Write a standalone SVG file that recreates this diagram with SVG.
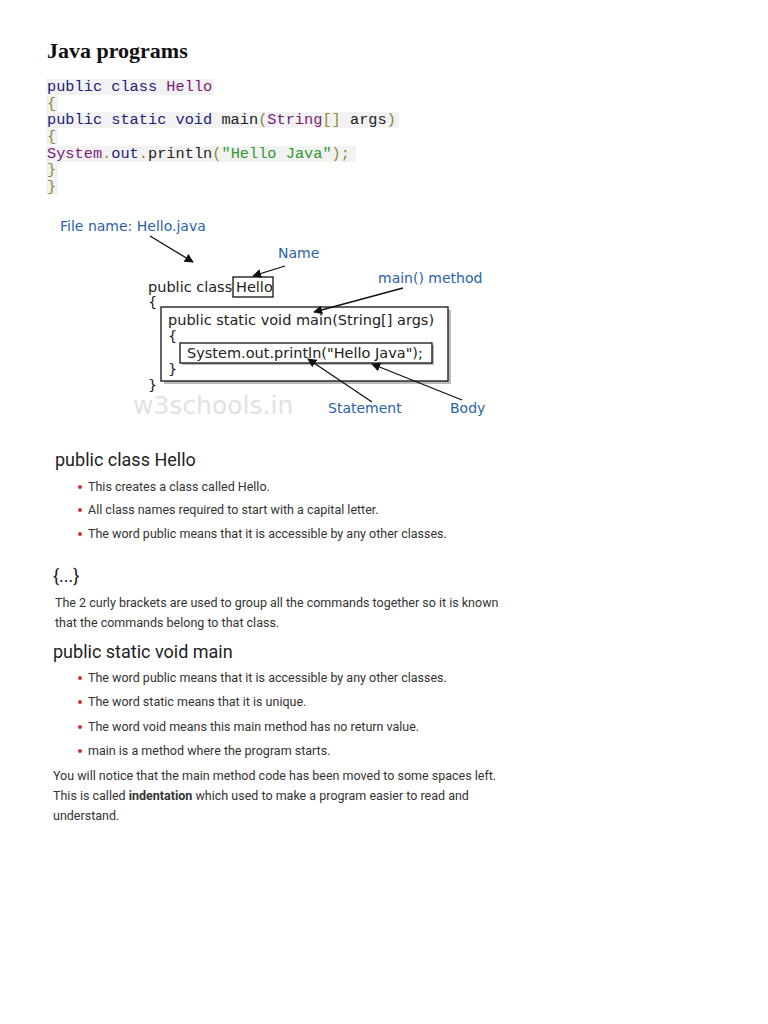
<svg xmlns="http://www.w3.org/2000/svg" width="768" height="1024" viewBox="0 0 768 1024">
<defs>
<style>
.code{font-family:"Liberation Mono",monospace;font-size:15.3px}
.kw{fill:#1a237e}.pl{fill:#7b1c7b}.br{fill:#8a8a3a}.st{fill:#2e9a2e}.tx{fill:#222}
.lbl{font-family:"DejaVu Sans",sans-serif;font-size:14px;fill:#2a63a8}
.dg{font-family:"DejaVu Sans",sans-serif;font-size:14.5px;fill:#222}
.h{font-family:Roboto,"Liberation Sans",sans-serif;font-size:18px;fill:#222}
.p{font-family:Roboto,"Liberation Sans",sans-serif;font-size:12.5px;fill:#333}
.arr{stroke:#111;stroke-width:1.3;fill:none;marker-end:url(#ah)}
</style>
<marker id="ah" viewBox="0 0 10 10" refX="9" refY="5" markerWidth="7" markerHeight="7" orient="auto"><path d="M0,0 L10,5 L0,10 z" fill="#111"/></marker>
</defs>
<rect width="768" height="1024" fill="#fff"/>
<text x="47" y="58" font-family="Liberation Serif,serif" font-size="22" font-weight="bold" fill="#111">Java programs</text>
<g id="code">
<rect x="46" y="79" width="168" height="16" fill="#f2f2f2"/>
<rect x="46" y="96" width="12" height="16" fill="#f2f2f2"/>
<rect x="46" y="112" width="353" height="16" fill="#f2f2f2"/>
<rect x="46" y="129" width="12" height="16" fill="#f2f2f2"/>
<rect x="46" y="146" width="310" height="16" fill="#f2f2f2"/>
<rect x="46" y="162" width="12" height="16" fill="#f2f2f2"/>
<rect x="46" y="179" width="12" height="16" fill="#f2f2f2"/>
<text class="code" x="47" y="91"><tspan class="kw">public class </tspan><tspan class="pl">Hello</tspan></text>
<text class="code br" x="47" y="108">{</text>
<text class="code" x="47" y="124"><tspan class="kw">public static void </tspan><tspan class="tx">main</tspan><tspan class="br">(</tspan><tspan class="pl">String</tspan><tspan class="br">[] </tspan><tspan class="tx">args</tspan><tspan class="br">)</tspan></text>
<text class="code br" x="47" y="141">{</text>
<text class="code" x="47" y="158"><tspan class="pl">System</tspan><tspan class="br">.</tspan><tspan class="kw">out</tspan><tspan class="br">.</tspan><tspan class="tx">println</tspan><tspan class="br">(</tspan><tspan class="st">"Hello Java"</tspan><tspan class="br">);</tspan></text>
<text class="code br" x="47" y="174">}</text>
<text class="code br" x="47" y="191">}</text>
</g>
<g id="diagram">
<text x="133" y="414" font-family="DejaVu Sans,sans-serif" font-size="25" fill="#e2e2e2">w3schools.in</text>
<text class="lbl" x="60" y="231">File name: Hello.java</text>
<text class="lbl" x="278" y="258">Name</text>
<text class="lbl" x="378" y="283">main() method</text>
<text class="lbl" x="328" y="413">Statement</text>
<text class="lbl" x="450" y="413">Body</text>
<text class="dg" x="148" y="292">public class</text>
<rect x="233" y="277" width="40" height="20" fill="#fff" stroke="#111" stroke-width="1.3"/>
<text class="dg" x="236" y="292">Hello</text>
<text class="dg" x="148" y="307">{</text>
<rect x="164" y="310" width="287" height="74" fill="#bbb"/>
<rect x="161" y="307" width="287" height="74" fill="#fff" stroke="#111" stroke-width="1.3"/>
<text class="dg" x="168" y="325">public static void main(String[] args)</text>
<text class="dg" x="168" y="341">{</text>
<rect x="182" y="345" width="252" height="20" fill="#bbb"/>
<rect x="180" y="343" width="252" height="20" fill="#fff" stroke="#111" stroke-width="1.3"/>
<text class="dg" x="187" y="358">System.out.println("Hello Java");</text>
<text class="dg" x="168" y="374">}</text>
<text class="dg" x="148" y="390">}</text>
</g>
<g id="connectors">
<line class="arr" x1="150" y1="236" x2="193" y2="262"/>
<line class="arr" x1="285" y1="266" x2="253" y2="276"/>
<line class="arr" x1="403" y1="288" x2="314" y2="312"/>
<line class="arr" x1="372" y1="402" x2="308" y2="359"/>
<line class="arr" x1="462" y1="400" x2="372" y2="364"/>
</g>
<g id="notes">
<text class="h" x="55" y="466">public class Hello</text>
<g fill="#d32f2f"><circle cx="80" cy="487" r="2"/><circle cx="80" cy="510" r="2"/><circle cx="80" cy="534" r="2"/>
<circle cx="80" cy="678" r="2"/><circle cx="80" cy="702" r="2"/><circle cx="80" cy="727" r="2"/><circle cx="80" cy="751" r="2"/></g>
<text class="p" x="88" y="491">This creates a class called Hello.</text>
<text class="p" x="88" y="514">All class names required to start with a capital letter.</text>
<text class="p" x="88" y="538">The word public means that it is accessible by any other classes.</text>
<text class="h" x="53" y="582">{...}</text>
<text class="p" x="55" y="607">The 2 curly brackets are used to group all the commands together so it is known</text>
<text class="p" x="55" y="627">that the commands belong to that class.</text>
<text class="h" x="53" y="658">public static void main</text>
<text class="p" x="88" y="682">The word public means that it is accessible by any other classes.</text>
<text class="p" x="88" y="706">The word static means that it is unique.</text>
<text class="p" x="88" y="731">The word void means this main method has no return value.</text>
<text class="p" x="88" y="755">main is a method where the program starts.</text>
<text class="p" x="53" y="780">You will notice that the main method code has been moved to some spaces left.</text>
<text class="p" x="53" y="800">This is called <tspan font-weight="bold">indentation</tspan> which used to make a program easier to read and</text>
<text class="p" x="53" y="820">understand.</text>
</g>
</svg>
